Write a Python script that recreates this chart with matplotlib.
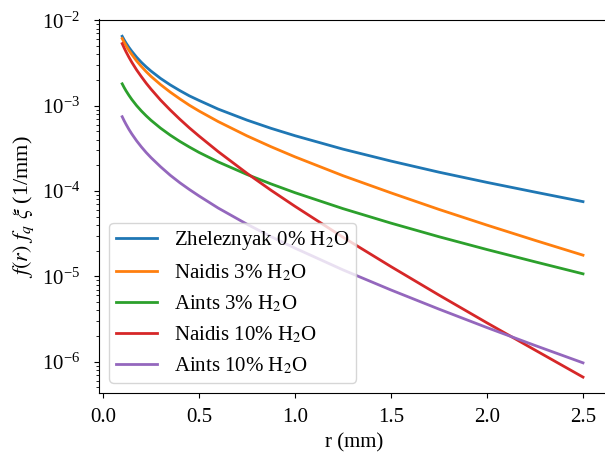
import matplotlib
matplotlib.use("Agg")
import matplotlib.pyplot as plt

plt.rcParams['font.family'] = ['Liberation Serif', 'DejaVu Serif']
plt.rcParams['mathtext.fontset'] = 'stix'
plt.rcParams['font.size'] = 15

r = [0.1, 0.11, 0.12, 0.135, 0.15, 0.175, 0.2, 0.225, 0.25, 0.3, 0.35, 0.4,
     0.45, 0.5, 0.6, 0.75, 0.875, 1.0, 1.25, 1.5, 1.75, 2.0, 2.25, 2.5]

zheleznyak_0 = [6.49e-3, 5.90e-3, 5.41e-3, 4.81e-3, 4.33e-3, 3.69e-3, 3.21e-3,
                2.84e-3, 2.54e-3, 2.08e-3, 1.75e-3, 1.50e-3, 1.30e-3, 1.15e-3,
                9.1e-4, 6.76e-4, 5.42e-4, 4.44e-4, 3.09e-4, 2.24e-4, 1.66e-4,
                1.26e-4, 9.7e-5, 7.5e-5]
naidis_3 = [6.10e-3, 5.52e-3, 5.04e-3, 4.44e-3, 3.97e-3, 3.34e-3, 2.87e-3,
            2.50e-3, 2.20e-3, 1.76e-3, 1.44e-3, 1.20e-3, 1.01e-3, 8.65e-4,
            6.5e-4, 4.42e-4, 3.30e-4, 2.51e-4, 1.51e-4, 9.5e-5, 6.08e-5,
            3.98e-5, 2.64e-5, 1.77e-5]
aints_3 = [1.80e-3, 1.63e-3, 1.49e-3, 1.32e-3, 1.18e-3, 1.00e-3, 8.65e-4,
           7.59e-4, 6.73e-4, 5.44e-4, 4.51e-4, 3.81e-4, 3.27e-4, 2.83e-4,
           2.19e-4, 1.56e-4, 1.21e-4, 9.55e-5, 6.21e-5, 4.20e-5, 2.91e-5,
           2.06e-5, 1.48e-5, 1.07e-5]
naidis_10 = [5.32e-3, 4.75e-3, 4.27e-3, 3.69e-3, 3.22e-3, 2.62e-3, 2.18e-3,
             1.83e-3, 1.56e-3, 1.16e-3, 8.89e-4, 6.93e-4, 5.48e-4, 4.40e-4,
             2.89e-4, 1.61e-4, 1.02e-4, 6.61e-5, 2.87e-5, 1.30e-5, 6.03e-6,
             2.85e-6, 1.37e-6, 6.6e-7]
aints_10 = [7.41e-4, 6.66e-4, 6.04e-4, 5.27e-4, 4.66e-4, 3.87e-4, 3.28e-4,
            2.82e-4, 2.46e-4, 1.92e-4, 1.53e-4, 1.25e-4, 1.04e-4, 8.75e-5,
            6.31e-5, 4.08e-5, 2.92e-5, 2.14e-5, 1.19e-5, 6.92e-6, 4.13e-6,
            2.51e-6, 1.55e-6, 9.7e-7]

labels = ["Zheleznyak 0% H$_2$O", "Naidis 3% H$_2$O", "Aints 3% H$_2$O",
          "Naidis 10% H$_2$O", "Aints 10% H$_2$O"]
series = [zheleznyak_0, naidis_3, aints_3, naidis_10, aints_10]
colors = ['#1f77b4', '#ff7f0e', '#2ca02c', '#d62728', '#9467bd']

fig = plt.figure(figsize=(6.05, 4.53), dpi=100)
ax = fig.add_axes([99/605, (453-393)/453, 510/605, (393-19.5)/453])

for ys, lab, c in zip(series, labels, colors):
    ax.plot(r, ys, color=c, lw=2, label=lab)

ax.set_yscale('log')
ax.set_xlim(-0.0208, 2.6354)
ax.set_ylim(4.3e-7, 1.02e-2)
ax.set_xticks([0.0, 0.5, 1.0, 1.5, 2.0, 2.5])
ax.tick_params(axis='y', which='major', pad=10)
ax.tick_params(axis='x', which='major', pad=7)
ax.set_xlabel("r (mm)", labelpad=5)
ax.set_ylabel("$f(r)$ $f_q$ $\\xi$ (1/mm)", labelpad=4, fontsize=16)
ax.legend(loc='lower left', borderpad=0.3)

fig.savefig("out.png", dpi=100)
